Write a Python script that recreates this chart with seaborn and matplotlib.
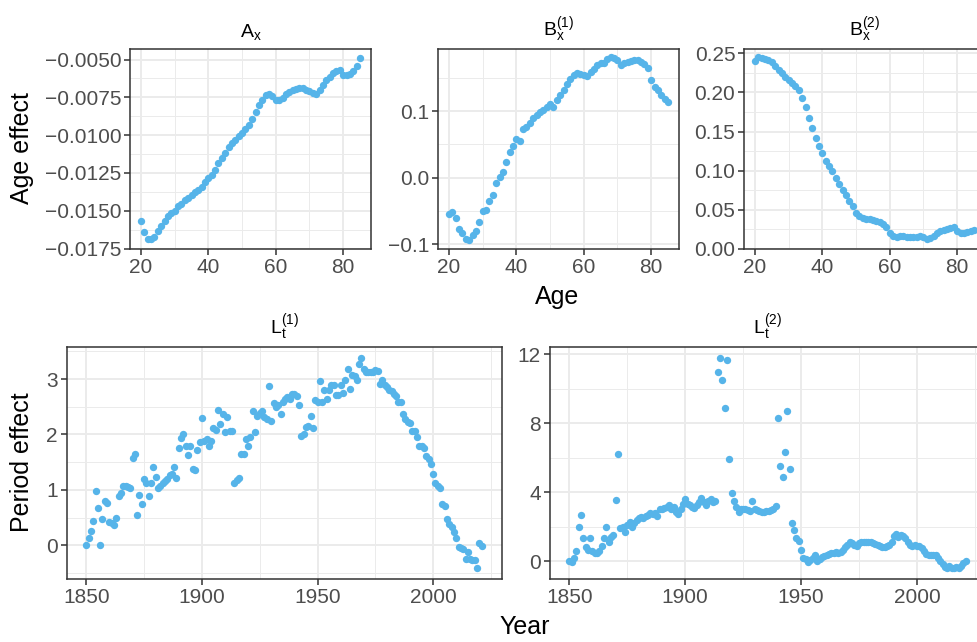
import numpy as np
import pandas as pd
import matplotlib
matplotlib.use("Agg")
import matplotlib.pyplot as plt
import seaborn as sns
from matplotlib.ticker import FuncFormatter, FixedLocator

# ---------------- data ----------------
ages = list(range(20, 86))
years = list(range(1850, 2022))

ax_vals = [-0.01566, -0.01640, -0.01686, -0.01686, -0.01673, -0.01636, -0.01599, -0.01570, -0.01537, -0.01515,
           -0.01500, -0.01471, -0.01456, -0.01432, -0.01414, -0.01395, -0.01379, -0.01362, -0.01340, -0.01307,
           -0.01285, -0.01263, -0.01230, -0.01186, -0.01154, -0.01116, -0.01081, -0.01050, -0.01029, -0.01007,
           -0.00985, -0.00956, -0.00934, -0.00890, -0.00847, -0.00803, -0.00765, -0.00737, -0.00726, -0.00743,
           -0.00765, -0.00765, -0.00752, -0.00730, -0.00715, -0.00704, -0.00693, -0.00686, -0.00691, -0.00700,
           -0.00711, -0.00719, -0.00726, -0.00700, -0.00667, -0.00638, -0.00612, -0.00590, -0.00577, -0.00568,
           -0.00603, -0.00599, -0.00594, -0.00577, -0.00544, -0.00489]

bx1_vals = [-0.055, -0.052, -0.061, -0.0775, -0.0835, -0.0925, -0.0935, -0.086, -0.081, -0.067,
            -0.051, -0.0485, -0.036, -0.026, -0.0085, 0.0005, 0.008, 0.024, 0.039, 0.0475,
            0.0575, 0.0555, 0.0725, 0.0755, 0.0815, 0.090, 0.094, 0.098, 0.1015, 0.1065,
            0.110, 0.1065, 0.1165, 0.125, 0.1325, 0.1415, 0.149, 0.155, 0.158, 0.1565,
            0.154, 0.1525, 0.159, 0.164, 0.169, 0.1725, 0.1725, 0.179, 0.1815, 0.180,
            0.1765, 0.170, 0.1725, 0.174, 0.1755, 0.1775, 0.1765, 0.174, 0.1705, 0.1655,
            0.1475, 0.1365, 0.1315, 0.124, 0.119, 0.114]

bx2_vals = [0.2406, 0.2449, 0.2436, 0.2427, 0.2419, 0.2384, 0.2333, 0.2286, 0.2243, 0.2192,
            0.2158, 0.2119, 0.2085, 0.2029, 0.1935, 0.1819, 0.1678, 0.1541, 0.1421, 0.1314,
            0.1229, 0.1122, 0.1057, 0.0993, 0.0908, 0.0830, 0.0749, 0.0685, 0.0616, 0.0552,
            0.0458, 0.0415, 0.0394, 0.0385, 0.0381, 0.0372, 0.0360, 0.0342, 0.0317, 0.0274,
            0.0201, 0.0158, 0.0154, 0.0158, 0.0167, 0.0154, 0.0146, 0.0150, 0.0150, 0.0158,
            0.0150, 0.0124, 0.0137, 0.0158, 0.0201, 0.0223, 0.0235, 0.0253, 0.0270, 0.0283,
            0.0231, 0.0201, 0.0201, 0.0210, 0.0223, 0.0240]

lt1_vals = [0.00, 0.13, 0.25, 0.44, 0.98, 0.67, 0.00, 0.47, 0.80, 0.76,
            0.42, 0.41, 0.36, 0.49, 0.88, 0.95, 1.07, 1.07, 1.05, 1.04,
            1.57, 1.64, 0.54, 0.90, 0.74, 1.19, 1.13, 0.88, 1.12, 1.41,
            1.23, 1.04, 1.07, 1.12, 1.16, 1.20, 1.26, 1.28, 1.42, 1.22,
            1.75, 1.94, 2.01, 1.80, 1.63, 1.80, 1.37, 1.35, 1.72, 1.87,
            2.30, 1.88, 1.91, 1.79, 1.88, 2.12, 2.09, 2.44, 2.19, 2.37,
            2.04, 2.31, 2.06, 2.07, 1.13, 1.18, 1.22, 1.65, 1.64, 1.92,
            1.80, 1.95, 2.43, 2.05, 2.33, 2.39, 2.43, 2.31, 2.28, 2.88,
            2.24, 2.56, 2.49, 2.53, 2.37, 2.59, 2.64, 2.68, 2.65, 2.74,
            2.73, 2.70, 2.53, 1.98, 2.00, 2.13, 2.15, 2.34, 2.12, 2.62,
            2.59, 2.97, 2.59, 2.80, 2.65, 2.80, 2.89, 2.89, 2.71, 2.72,
            2.89, 2.75, 2.99, 3.18, 2.83, 3.07, 3.05, 2.99, 3.27, 3.39,
            3.18, 3.12, 3.13, 3.12, 3.12, 3.16, 3.14, 2.91, 2.99, 2.89,
            2.85, 2.80, 2.79, 2.74, 2.70, 2.59, 2.58, 2.37, 2.28, 2.22,
            2.21, 2.07, 2.06, 1.95, 1.80, 1.79, 1.76, 1.62, 1.56, 1.46,
            1.28, 1.12, 1.07, 1.03, 0.74, 0.70, 0.48, 0.39, 0.32, 0.23,
            0.13, -0.04, -0.05, -0.07, -0.25, -0.13, -0.25, -0.26, -0.27, -0.42,
            0.04, -0.01]

lt2_vals = [0.00, -0.04, 0.19, 0.57, 2.00, 2.70, 1.33, 0.80, 0.67, 1.33,
            0.57, 0.48, 0.48, 0.57, 0.91, 1.33, 2.00, 1.10, 1.43, 1.52,
            3.56, 6.23, 1.90, 2.00, 1.71, 2.10, 2.29, 2.00, 2.19, 2.38,
            2.48, 2.57, 2.53, 2.63, 2.67, 2.80, 2.76, 2.80, 2.61, 3.01,
            3.05, 3.10, 3.14, 3.24, 3.05, 3.14, 2.86, 2.76, 3.05, 3.33,
            3.58, 3.33, 3.24, 3.14, 3.09, 3.24, 3.43, 3.66, 3.43, 3.28,
            3.52, 3.58, 3.43, 3.47, 10.95, 11.81, 10.53, 8.91, 11.66, 5.94,
            3.96, 3.49, 3.14, 2.86, 3.05, 3.05, 3.00, 2.95, 2.90, 3.49,
            3.00, 2.95, 2.90, 2.88, 2.86, 2.90, 2.92, 2.95, 3.01, 3.18,
            8.29, 5.52, 4.86, 6.32, 8.72, 5.37, 2.19, 1.81, 1.33, 1.18,
            0.67, 0.19, 0.10, -0.04, 0.06, 0.19, 0.34, 0.04, 0.15, 0.25,
            0.32, 0.38, 0.44, 0.48, 0.48, 0.51, 0.48, 0.53, 0.67, 0.80,
            0.95, 1.09, 1.05, 0.95, 0.86, 1.05, 1.10, 1.14, 1.14, 1.10,
            1.14, 1.05, 1.01, 0.95, 0.91, 0.82, 0.80, 0.86, 0.95, 1.10,
            1.49, 1.56, 1.39, 1.52, 1.47, 1.33, 1.14, 0.95, 0.91, 0.95,
            0.91, 0.86, 0.76, 0.57, 0.42, 0.38, 0.38, 0.38, 0.34, 0.19,
            0.04, -0.19, -0.34, -0.42, -0.29, -0.38, -0.42, -0.34, -0.38, -0.29,
            -0.10, 0.04]

titles_top = [r"$\mathregular{A_x}$", r"$\mathregular{B_x^{(1)}}$", r"$\mathregular{B_x^{(2)}}$"]
titles_bot = [r"$\mathregular{L_t^{(1)}}$", r"$\mathregular{L_t^{(2)}}$"]
age_ticks = [20, 40, 60, 80]
year_ticks = [1850, 1900, 1950, 2000]
yt_ax = [-0.0175, -0.0150, -0.0125, -0.0100, -0.0075, -0.0050]
yt_bx1 = [-0.1, 0.0, 0.1]
yt_bx2 = [0.00, 0.05, 0.10, 0.15, 0.20, 0.25]
yt_lt1 = [0, 1, 2, 3]
yt_lt2 = [0, 4, 8, 12]

# ---------------- style ----------------
sns.set_theme(style="white")
plt.rcParams["font.family"] = ["Liberation Sans", "DejaVu Sans"]
plt.rcParams["mathtext.fontset"] = "custom"
plt.rcParams["mathtext.rm"] = "Liberation Sans"
plt.rcParams["axes.unicode_minus"] = True

PT = "#56B4E9"
W, H = 977, 642
fig = plt.figure(figsize=(W / 100, H / 100), dpi=100)
fig.patch.set_facecolor("white")


def add_ax(l, r, t, b):
    return fig.add_axes([l / W, 1 - b / H, (r - l) / W, (b - t) / H])


def minor_between(ticks):
    step = ticks[1] - ticks[0]
    return [ticks[0] - step / 2] + [t + step / 2 for t in ticks]


def style(ax, xt, yt, fmt, title):
    ax.set_facecolor("white")
    for s in ax.spines.values():
        s.set_color("#333333")
        s.set_linewidth(1.1)
    ax.xaxis.set_major_locator(FixedLocator(xt))
    ax.yaxis.set_major_locator(FixedLocator(yt))
    ax.xaxis.set_minor_locator(FixedLocator(minor_between(xt)))
    ax.yaxis.set_minor_locator(FixedLocator(minor_between(yt)))
    ax.yaxis.set_major_formatter(FuncFormatter(lambda v, p: fmt.format(v).replace("-", "\u2212")))
    ax.xaxis.set_major_formatter(FuncFormatter(lambda v, p: f"{v:.0f}"))
    ax.grid(True, which="major", color="#EBEBEB", linewidth=1.4)
    ax.grid(True, which="minor", color="#EBEBEB", linewidth=0.7)
    ax.set_axisbelow(True)
    ax.tick_params(which="major", length=4.3, width=1.1, color="#333333",
                   labelsize=15, labelcolor="#4D4D4D", pad=2, bottom=True, left=True)
    ax.tick_params(which="minor", length=0, bottom=False, left=False)
    ax.set_xlabel("")
    ax.set_ylabel("")
    ax.set_title(title, fontsize=14, pad=9, color="black")


df_age = pd.DataFrame({"Age": ages, "Ax": ax_vals, "Bx1": bx1_vals, "Bx2": bx2_vals})
df_year = pd.DataFrame({"Year": years, "Lt1": lt1_vals, "Lt2": lt2_vals})

top_pos = [(130, 371), (438, 679), (744, 985)]
top_cols = ["Ax", "Bx1", "Bx2"]
top_yt = [yt_ax, yt_bx1, yt_bx2]
top_fmt = ["{:.4f}", "{:.1f}", "{:.2f}"]
top_ylim = [(-0.01753, -0.00430), (-0.1075, 0.1935), (-0.0003, 0.2556)]
for (l, r), col, yt, fmt, tt, yl in zip(top_pos, top_cols, top_yt, top_fmt, titles_top, top_ylim):
    a = add_ax(l, r, 49, 249)
    sns.scatterplot(data=df_age, x="Age", y=col, ax=a, color=PT, s=28, linewidth=0, legend=False)
    a.set_xlim(16.75, 88.25)
    a.set_ylim(*yl)
    style(a, age_ticks, yt, fmt, tt)

bot_pos = [(66.5, 501.5), (549.5, 985.5)]
bot_cols = ["Lt1", "Lt2"]
bot_yt = [yt_lt1, yt_lt2]
for (l, r), col, yt, tt in zip(bot_pos, bot_cols, bot_yt, titles_bot):
    a = add_ax(l, r, 347, 579)
    sns.scatterplot(data=df_year, x="Year", y=col, ax=a, color=PT, s=28, linewidth=0, legend=False)
    a.set_xlim(1841.45, 2029.55)
    a.margins(y=0.05)
    style(a, year_ticks, yt, "{:.0f}", tt)

fig.text(557 / W, 1 - 297 / H, "Age", ha="center", va="center", fontsize=18, color="black")
fig.text(525 / W, 1 - 627 / H, "Year", ha="center", va="center", fontsize=18, color="black")
fig.text(22 / W, 1 - 148 / H, "Age effect", ha="center", va="center", rotation=90, fontsize=18, color="black")
fig.text(22 / W, 1 - 462 / H, "Period effect", ha="center", va="center", rotation=90, fontsize=18, color="black")

fig.savefig("out.png", dpi=100, facecolor="white")
